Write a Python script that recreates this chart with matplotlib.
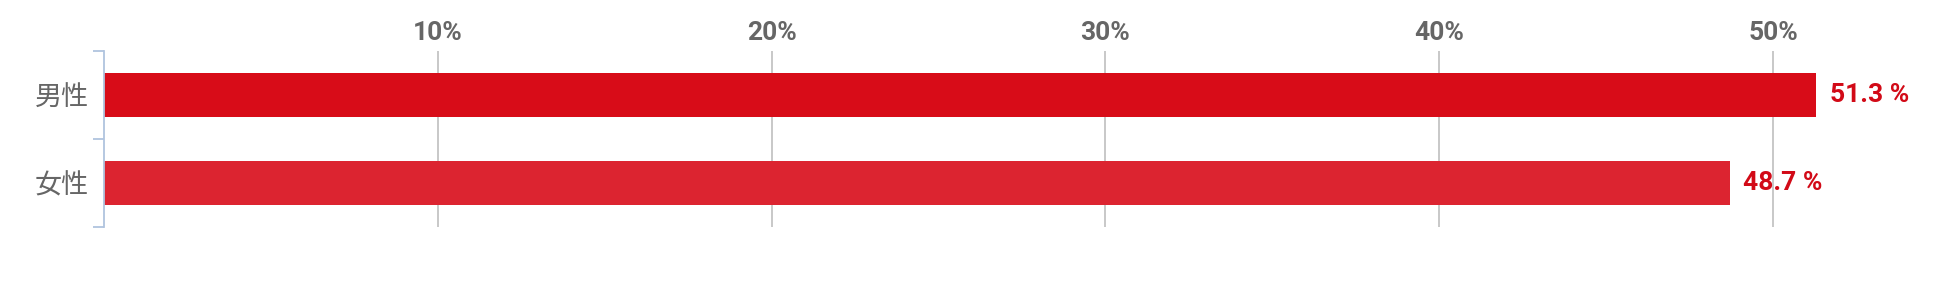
import matplotlib
matplotlib.use('Agg')
import matplotlib.pyplot as plt
from matplotlib.ticker import FixedLocator

# data
categories = ['男性', '女性']
values = [51.3, 48.7]
bar_colors = ['#d80c18', '#dc2430']
xticks = [10, 20, 30, 40, 50]
xtick_labels = ['10%', '20%', '30%', '40%', '50%']

W, H = 1950, 307
fig = plt.figure(figsize=(W / 100, H / 100), dpi=100)
fig.set_facecolor('white')

# axes in pixel coords: left 104, right 1940, top 51, bottom 227
ax = fig.add_axes([104 / W, (H - 227) / H, (1940 - 104) / W, (227 - 51) / H])

y = list(range(len(categories)))
ax.barh(y, values, height=0.5, color=bar_colors, zorder=3)
ax.set_ylim(len(categories) - 0.5, -0.5)
ax.set_xlim(0, 55)

for yi, v in zip(y, values):
    ax.text(v + 0.4, yi, f'{v} %', va='center', ha='left', color='#d20a17',
            fontsize=19, fontweight='bold', family=['Roboto', 'DejaVu Sans'], zorder=4)

# grid
for t in xticks:
    ax.axvline(t, color='#c4c4c4', linewidth=1.3, zorder=1)

ax.xaxis.set_major_locator(FixedLocator(xticks))
ax.set_xticklabels(xtick_labels)
ax.xaxis.tick_top()
ax.tick_params(axis='x', length=0, pad=4, labelsize=19, labelcolor='#666666')
for lbl in ax.get_xticklabels():
    lbl.set_fontweight('bold')
    lbl.set_family(['Roboto', 'DejaVu Sans'])

ax.set_yticks(y)
ax.set_yticklabels(categories)
ax.tick_params(axis='y', length=0, pad=11, labelsize=19.5, labelcolor='#666666')
for lbl in ax.get_yticklabels():
    lbl.set_family(['Noto Sans CJK JP', 'DejaVu Sans'])

# category separator ticks on the y axis
ax.set_yticks([-0.5, 0.5, 1.5], minor=True)
ax.tick_params(axis='y', which='minor', length=8, width=1.3, color='#b0c4de')

for side in ['top', 'right', 'bottom']:
    ax.spines[side].set_visible(False)
ax.spines['left'].set_color('#b0c4de')
ax.spines['left'].set_linewidth(1.3)
ax.spines['left'].set_zorder(5)

fig.savefig('out.png', dpi=100, facecolor='white')
